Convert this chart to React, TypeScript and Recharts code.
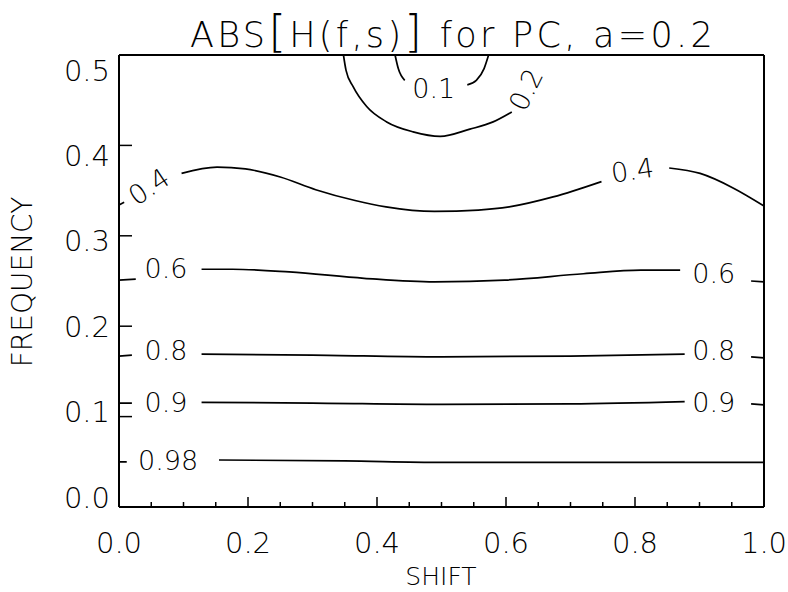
import React from 'react';
import { LineChart, Line, XAxis, YAxis, ReferenceDot } from 'recharts';

// axis ticks
const shiftTicks = [0, 0.05, 0.1, 0.15, 0.2, 0.25, 0.3, 0.35, 0.4, 0.45, 0.5, 0.55, 0.6, 0.65, 0.7, 0.75, 0.8, 0.85, 0.9, 0.95, 1];
const shiftMajor = [0, 0.2, 0.4, 0.6, 0.8, 1];
const freqTicks = [0, 0.1, 0.2, 0.3, 0.4, 0.5];

// contour lines (s = shift, f = frequency), null = gap left for the level label
const c01 = [
  { s: 0.428, f: 0.5 }, { s: 0.433, f: 0.485 }, { s: 0.443, f: 0.472 },
  { s: 0.49, f: null },
  { s: 0.54, f: 0.467 }, { s: 0.554, f: 0.472 }, { s: 0.566, f: 0.485 }, { s: 0.573, f: 0.5 },
];
const c02 = [
  { s: 0.348, f: 0.5 }, { s: 0.352, f: 0.483 }, { s: 0.363, f: 0.465 }, { s: 0.384, f: 0.443 },
  { s: 0.415, f: 0.426 }, { s: 0.456, f: 0.415 }, { s: 0.498, f: 0.41 }, { s: 0.544, f: 0.418 },
  { s: 0.58, f: 0.426 }, { s: 0.609, f: 0.437 },
];
const c04 = [
  { s: 0, f: 0.334 }, { s: 0.008, f: 0.337 },
  { s: 0.05, f: null },
  { s: 0.097, f: 0.369 }, { s: 0.152, f: 0.376 }, { s: 0.196, f: 0.374 }, { s: 0.25, f: 0.365 },
  { s: 0.305, f: 0.351 }, { s: 0.366, f: 0.339 }, { s: 0.414, f: 0.332 }, { s: 0.489, f: 0.327 },
  { s: 0.557, f: 0.3285 }, { s: 0.605, f: 0.332 }, { s: 0.673, f: 0.343 }, { s: 0.748, f: 0.36 },
  { s: 0.8, f: null },
  { s: 0.853, f: 0.375 }, { s: 0.901, f: 0.369 }, { s: 0.952, f: 0.353 }, { s: 1, f: 0.333 },
];
const c06 = [
  { s: 0, f: 0.251 }, { s: 0.026, f: 0.252 },
  { s: 0.07, f: null },
  { s: 0.128, f: 0.263 }, { s: 0.176, f: 0.263 }, { s: 0.264, f: 0.26 }, { s: 0.38, f: 0.253 },
  { s: 0.489, f: 0.249 }, { s: 0.598, f: 0.251 }, { s: 0.72, f: 0.258 }, { s: 0.809, f: 0.262 },
  { s: 0.87, f: 0.262 },
  { s: 0.92, f: null },
  { s: 0.98, f: 0.25 }, { s: 1, f: 0.249 },
];
const c08 = [
  { s: 0, f: 0.167 }, { s: 0.02, f: 0.168 },
  { s: 0.07, f: null },
  { s: 0.128, f: 0.169 }, { s: 0.3, f: 0.168 }, { s: 0.5, f: 0.166 }, { s: 0.7, f: 0.167 }, { s: 0.877, f: 0.169 },
  { s: 0.92, f: null },
  { s: 0.98, f: 0.166 }, { s: 1, f: 0.165 },
];
const c09 = [
  { s: 0, f: 0.115 }, { s: 0.02, f: 0.115 },
  { s: 0.07, f: null },
  { s: 0.128, f: 0.1158 }, { s: 0.3, f: 0.115 }, { s: 0.5, f: 0.1136 }, { s: 0.7, f: 0.114 }, { s: 0.877, f: 0.1165 },
  { s: 0.92, f: null },
  { s: 0.98, f: 0.114 }, { s: 1, f: 0.113 },
];
const c098 = [
  { s: 0, f: 0.05 }, { s: 0.012, f: 0.05 },
  { s: 0.08, f: null },
  { s: 0.155, f: 0.052 }, { s: 0.35, f: 0.051 }, { s: 0.5, f: 0.0494 }, { s: 0.75, f: 0.0494 }, { s: 1, f: 0.0494 },
];

const contours = [c01, c02, c04, c06, c08, c09, c098];

// level labels placed on the contours
const levelLabels = [
  { text: '0.1', s: 0.488, f: 0.463, angle: 0 },
  { text: '0.2', s: 0.63, f: 0.462, angle: -64 },
  { text: '0.4', s: 0.046, f: 0.355, angle: -34 },
  { text: '0.4', s: 0.796, f: 0.373, angle: -8 },
  { text: '0.6', s: 0.073, f: 0.264, angle: 0 },
  { text: '0.6', s: 0.922, f: 0.259, angle: 0 },
  { text: '0.8', s: 0.073, f: 0.1737, angle: 0 },
  { text: '0.8', s: 0.922, f: 0.1737, angle: 0 },
  { text: '0.9', s: 0.073, f: 0.1165, angle: 0 },
  { text: '0.9', s: 0.922, f: 0.1165, angle: 0 },
  { text: '0.98', s: 0.076, f: 0.052, angle: 0 },
];

const FONT = '"DejaVu Sans", "Liberation Sans", sans-serif';
const WEIGHT = 200;

const isMajor = (v: number) => shiftMajor.some((m) => Math.abs(m - v) < 1e-6);

const BottomTick = ({ x, y, payload }: any) => {
  const major = isMajor(payload.value);
  return (
    <g>
      <line x1={x} x2={x} y1={y} y2={y - (major ? 10 : 5)} stroke="#000" strokeWidth={1.5} />
      {major && (
        <text x={x} y={y + 46} textAnchor="middle" fontSize={29} fontFamily={FONT} fontWeight={WEIGHT} fill="#000">
          {payload.value.toFixed(1)}
        </text>
      )}
    </g>
  );
};

const TopTick = ({ x, y, payload }: any) => (
  <line x1={x} x2={x} y1={y} y2={y + (isMajor(payload.value) ? 10 : 5)} stroke="#000" strokeWidth={1.5} />
);

// the printed labels sit a little off their ticks (lower at the top, higher at the bottom)
const LeftTick = ({ x, y, payload }: any) => (
  <g>
    <line x1={x} x2={x + 13} y1={y} y2={y} stroke="#000" strokeWidth={1.5} />
    <text x={x - 9} y={y + 10.5 - 10 + 50 * payload.value} textAnchor="end" fontSize={29} fontFamily={FONT}
      fontWeight={WEIGHT} fill="#000">
      {payload.value.toFixed(1)}
    </text>
  </g>
);

const RightTick = ({ x, y }: any) => (
  <line x1={x} x2={x - 13} y1={y} y2={y} stroke="#000" strokeWidth={1.5} />
);

export default function App() {
  const axisLine = { stroke: '#000', strokeWidth: 2 };
  return (
    <div style={{ position: 'absolute', left: 0, top: 0, width: 788, height: 592, background: '#fff' }}>
      <LineChart width={788} height={592} margin={{ top: 0, right: 0, bottom: 0, left: 0 }}>
        <XAxis xAxisId="b" dataKey="s" type="number" domain={[0, 1]} ticks={shiftTicks} interval={0}
          tickSize={0} tickMargin={0} tick={<BottomTick />} tickLine={false} axisLine={axisLine} height={85} />
        <XAxis xAxisId="t" orientation="top" dataKey="s" type="number" domain={[0, 1]} ticks={shiftTicks} interval={0}
          tickSize={0} tickMargin={0} tick={<TopTick />} tickLine={false} axisLine={axisLine} height={55} />
        <YAxis yAxisId="l" dataKey="f" type="number" domain={[0, 0.5]} ticks={freqTicks} interval={0}
          tickSize={0} tickMargin={0} tick={<LeftTick />} tickLine={false} axisLine={axisLine} width={119} />
        <YAxis yAxisId="r" orientation="right" dataKey="f" type="number" domain={[0, 0.5]} ticks={freqTicks} interval={0}
          tickSize={0} tickMargin={0} tick={<RightTick />} tickLine={false} axisLine={axisLine} width={24} />
        {contours.map((c, i) => (
          <Line key={i} data={c} dataKey="f" xAxisId="b" yAxisId="l" type="monotone" stroke="#000"
            strokeWidth={1.7} dot={false} activeDot={false} connectNulls={false} isAnimationActive={false} />
        ))}
        {levelLabels.map((l, i) => (
          <ReferenceDot key={i} xAxisId="b" yAxisId="l" x={l.s} y={l.f} r={0} ifOverflow="visible"
            shape={(p: any) => (
              <text x={p.cx} y={p.cy} dy={10} textAnchor="middle" fontSize={27} fontFamily={FONT}
                fontWeight={WEIGHT} fill="#000" transform={`rotate(${l.angle} ${p.cx} ${p.cy})`}>
                {l.text}
              </text>
            )} />
        ))}
      </LineChart>
      <svg width={788} height={592} style={{ position: 'absolute', left: 0, top: 0, pointerEvents: 'none' }}>
        <text x={190} y={47} fontSize={35} fontFamily={FONT} fontWeight={WEIGHT} letterSpacing={3.3} fill="#000">
          ABS<tspan fontSize={45}>[</tspan>H(f,s)<tspan fontSize={45}>]</tspan> for PC, a=0.2
        </text>
        <text x={22} y={282} transform="rotate(-90 22 282)" dy={10} textAnchor="middle" fontSize={28}
          fontFamily={FONT} fontWeight={WEIGHT} fill="#000">
          FREQUENCY
        </text>
        <text x={441} y={585} textAnchor="middle" fontSize={25} fontFamily={FONT} fontWeight={WEIGHT} fill="#000">
          SHIFT
        </text>
      </svg>
    </div>
  );
}
